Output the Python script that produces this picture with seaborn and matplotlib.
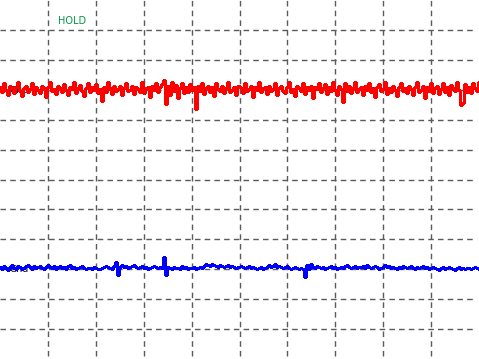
import numpy as np
import pandas as pd
import matplotlib
matplotlib.use("Agg")
import matplotlib.pyplot as plt
import seaborn as sns

# Channel levels (divisions) and noise (1 unit = 1/30 division)
red_level = 3.03
blue_level = -2.97
noise_unit = 1 / 30.0

red_noise = [
    2, -3, 6, -1, -6, 3, 1, -4, 2, 7, -2, -7, 1, 3, -3, 0, 6, -5, 2, -1,
    -4, 3, 1, -8, 2, 7, -2, 0, -5, 3, 1, -3, 5, -1, -6, 2, 0, 7, -4, 1,
    4, -2, -7, 1, 6, -3, 2, -1, 5, -4, 0, -12, 2, -3, 7, 1, -5, 3, -2, 0,
    3, -6, 1, 6, -2, -1, 3, -5, 2, 0, -3, 7, -4, 1, 2, -8, 3, -1, 6, -3,
    2, 5, 9, -15, 3, -6, 7, -2, 4, -9, 1, 6, -4, 2, -3, 5, -1, 2, -20, 3,
    -2, 6, -5, 1, 3, -3, 2, -7, 6, 0, -2, 3, -4, 1, 7, -3, -1, 2, -6, 3,
    1, -4, 6, -2, 0, 3, -8, 2, -1, 7, -3, 1, 2, -5, 3, -2, 0, 6, -6, 1,
    3, -2, -4, 2, 7, -3, 0, -7, 3, 1, -2, 6, -5, 2, -1, 3, -9, 2, 0, 6,
    -3, 1, 5, -5, 2, -2, 7, -1, -6, 3, 0, -13, 6, -2, 3, -4, 1, 7, -3, 0,
    2, -6, 3, -1, 6, -3, 1, -8, 2, 5, -2, 0, 7, -5, 1, -3, 3, -1, -7, 2,
    6, -2, 1, -4, 3, 0, -6, 2, 7, -3, -1, 3, -9, 2, -2, 6, -4, 1, 3, -5,
    0, 6, -3, 2, -6, 4, 1, -2, 7, -1, -16, -14, 5, -3, 2, -4, 6, 1, -2, 7,
]

blue_noise = [
    1, -1, 2, 0, -2, 1, 3, 0, -1, 2, 1, -1, 0, 2, 3, 1, -1, 2, 0, 1,
    2, 0, -1, 1, 3, 1, 0, 2, -1, 1, 2, 0, 1, -1, 2, 3, 0, 1, -1, 0,
    1, 2, 0, -1, 0, 0, -1, 1, 0, -1, -1, 0, 1, 2, 1, 0, -1, 2, 6, -7,
    1, 3, 1, 2, 0, 1, 2, 3, 1, 0, 1, 2, 0, 1, -1, 0, 1, 2, 1, 0,
    1, 0, 11, -7, 1, 0, -1, 1, 0, 0, -1, 2, 0, 1, -1, 0, 0, 1, -1, 0,
    1, 0, 2, 4, 3, 2, 4, 3, 2, 1, 3, 2, 1, 2, 3, 1, 2, 1, 0, 1,
    2, 1, 0, 1, 2, 0, 1, 0, -1, 0, 1, -1, 0, 1, 3, 1, 2, 4, 1, 2,
    1, 0, 1, 2, 0, -1, 0, 1, 0, -1, 0, -1, -9, 3, -1, 4, 1, 0, 2, 1,
    0, 1, -1, 0, 1, 2, 0, 1, -1, 0, 1, 0, 2, 3, 1, 0, 1, 2, 0, 1,
    1, 2, 0, 3, 1, 0, 1, 2, 1, -1, 0, 1, 3, 1, 2, 0, 1, 0, -1, 1,
    0, 2, 1, 0, 1, 2, 0, -1, 1, 0, 1, 2, 0, 1, -1, 0, 1, 0, -1, -2,
    0, 1, -1, 0, 1, 0, -1, -2, 0, 1, -1, 0, -1, 0, 0, -1, 0, 1, 0, -1,
]

time_div = np.linspace(0, 10, len(red_noise))
red = red_level + np.array(red_noise) * noise_unit
blue = blue_level + np.array(blue_noise) * noise_unit

df_red = pd.DataFrame({"t": time_div, "v": red})
df_blue = pd.DataFrame({"t": time_div, "v": blue})

sns.set_style("white")
fig = plt.figure(figsize=(4.79, 3.59), dpi=100)
ax = fig.add_axes([0, 0, 1, 1])
ax.set_xlim(0, 10)
ax.set_ylim(-6, 6)

# graticule
for k in range(1, 10):
    ax.plot([k, k], [-5.9, 6], color="#5a5a5a", lw=1.0, ls=(0, (4, 3)), zorder=1)
for k in range(-5, 6):
    ax.plot([0, 9.94], [k, k], color="#5a5a5a", lw=1.0, ls=(0, (4, 3)), zorder=1)

ax.text(0.2, red_level - 0.04, "Gnd", fontsize=6.8, color="black",
        va="center", ha="left", zorder=2)
ax.text(0.2, blue_level - 0.05, "Gnd", fontsize=6.8, color="black",
        va="center", ha="left", zorder=2)
ax.text(1.22, 5.3, "HOLD", fontsize=7, color="#009a44",
        va="center", ha="left", zorder=2)

sns.lineplot(data=df_red, x="t", y="v", ax=ax, color="#ff0000", linewidth=0.75,
             zorder=3, estimator=None, drawstyle="steps-mid", antialiased=False)
sns.lineplot(data=df_blue, x="t", y="v", ax=ax, color="#0000ff", linewidth=0.75,
             zorder=3, estimator=None, drawstyle="steps-mid", antialiased=False)

ax.set_xticks([])
ax.set_yticks([])
ax.set_xlabel("")
ax.set_ylabel("")
for s in ax.spines.values():
    s.set_visible(False)

fig.savefig("out.png", dpi=100)
